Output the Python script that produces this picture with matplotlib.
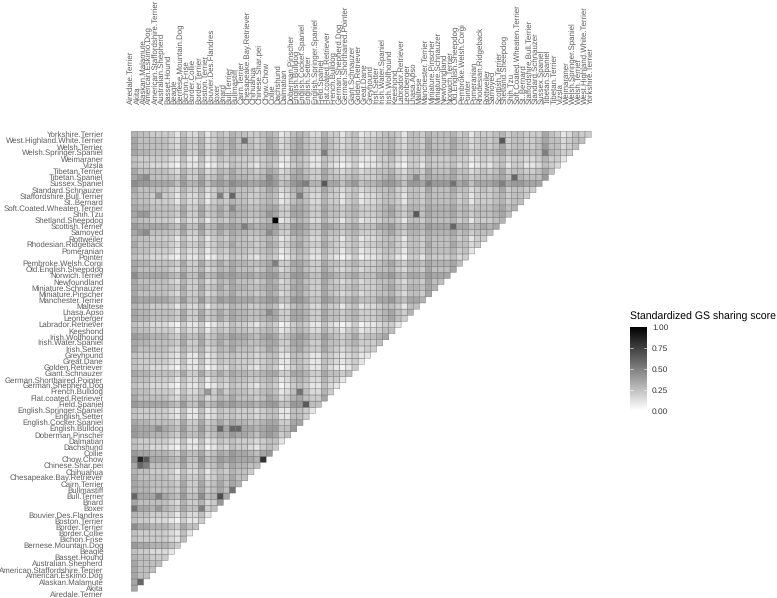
import numpy as np
import matplotlib
matplotlib.use('Agg')
import matplotlib.pyplot as plt
from matplotlib.colors import LinearSegmentedColormap

plt.rcParams['font.family'] = ['Liberation Sans', 'DejaVu Sans']
plt.rcParams['text.hinting'] = 'none'

breeds = ['Airedale.Terrier', 'Akita', 'Alaskan.Malamute', 'American.Eskimo.Dog',
          'American.Staffordshire.Terrier', 'Australian.Shepherd', 'Basset.Hound', 'Beagle',
          'Bernese.Mountain.Dog', 'Bichon.Frise', 'Border.Collie', 'Border.Terrier',
          'Boston.Terrier', 'Bouvier.Des.Flandres', 'Boxer', 'Briard', 'Bull.Terrier',
          'Bullmastiff', 'Cairn.Terrier', 'Chesapeake.Bay.Retriever', 'Chihuahua',
          'Chinese.Shar.pei', 'Chow.Chow', 'Collie', 'Dachshund', 'Dalmatian',
          'Doberman.Pinscher', 'English.Bulldog', 'English.Cocker.Spaniel', 'English.Setter',
          'English.Springer.Spaniel', 'Field.Spaniel', 'Flat.coated.Retriever', 'French.Bulldog',
          'German.Shepherd.Dog', 'German.Shorthaired.Pointer', 'Giant.Schnauzer',
          'Golden.Retriever', 'Great.Dane', 'Greyhound', 'Irish.Setter', 'Irish.Water.Spaniel',
          'Irish.Wolfhound', 'Keeshond', 'Labrador.Retriever', 'Leonberger', 'Lhasa.Apso',
          'Maltese', 'Manchester.Terrier', 'Miniature.Pinscher', 'Miniature.Schnauzer',
          'Newfoundland', 'Norwich.Terrier', 'Old.English.Sheepdog', 'Pembroke.Welsh.Corgi',
          'Pointer', 'Pomeranian', 'Rhodesian.Ridgeback', 'Rottweiler', 'Samoyed',
          'Scottish.Terrier', 'Shetland.Sheepdog', 'Shih.Tzu', 'Soft.Coated.Wheaten.Terrier',
          'St..Bernard', 'Staffordshire.Bull.Terrier', 'Standard.Schnauzer', 'Sussex.Spaniel',
          'Tibetan.Spaniel', 'Tibetan.Terrier', 'Vizsla', 'Weimaraner', 'Welsh.Springer.Spaniel',
          'Welsh.Terrier', 'West.Highland.White.Terrier', 'Yorkshire.Terrier']

# scores, one character per cell, steps of 0.05 (base 36)
# rows go top to bottom, spaces every ten columns only to keep them readable
score_rows = [
    '6554444253 3524546554 4565235653 3644245233 4554255465 5564524445 6455444754 23544',
    '7555554364 46346575b5 4576346754 4754345344 5564355475 5575534545 d455445755 3455',
    '7555554364 4634657555 4576346754 4754345344 5564355475 5575534545 7455445855 345',
    '7665555474 4745757665 5677447764 4a55456444 5675466576 6675645556 7566555a65 44',
    '5444443252 2523545444 3455225542 2543234222 4453244354 4454423434 5344334644 2',
    '5443332142 2412435443 2454124542 2532124122 3442144254 4453412324 5244223543',
    '7555554364 4634657555 4576346754 4754345344 5564355475 5575534545 745544575',
    '7895555474 4745757665 5697447764 4755456444 5675469576 6675645556 75c65558',
    '9887777586 6857879887 78985689a6 6d77578566 78875887a8 88b7857778 a788777',
    '7555554364 4634657555 4576346754 4754345344 5564355475 5575534545 745544',
    '6554844253 3524a4c554 4565235a53 3644245233 4554255465 5564524445 64554',
    '6554444253 3524546554 4565235653 3644245233 4554255465 5564524445 6455',
    '7665555474 4745759665 5677447764 4755456444 5675466576 6675645556 756',
    '7885555474 4745757665 5687447764 4755456444 567546d576 6675645556 75',
    '6554444253 3524546554 456k235653 3644245233 4554255465 5564524445 6',
    '8777776585 58568787a7 6788558875 5876567555 7786577687 77c7756767',
    '7895555474 4745757665 5697447764 4755456444 5675466576 667564555',
    '6554444253 3524546554 4565235653 3644245233 4554255465 55645244',
    '7555554364 4634657555 4576346754 4754345344 5564355475 5575534',
    '6554444253 3524546554 4565235653 3644245233 4554255465 556452',
    '5443332142 2412435443 2454124542 2532124122 3442144254 44534',
    '7665555474 4745757665 567a447764 4755456444 5675466576 6675',
    '7555554364 4634657555 4576346754 4754345344 5564355475 557',
    '9777776585 5856878777 6788558875 5876567555 7786577687 77',
    '7555554364 4634657555 4576346754 4754345344 5564355475 5',
    '7665555474 4745757665 5677447764 4755456444 5675466576',
    '7555554364 4634657555 4576346754 4754345344 556435547',
    '8777776585 5856878777 6788558875 5876567555 77865776',
    '6554444253 3524546554 4565235653 3644245233 4554255',
    '7665555474 4745757665 5697447764 4755456444 567546',
    '7665555474 4745757665 5677447764 4755456444 56754',
    '5443332142 2412435443 2454124542 2532124122 3442',
    '6554444253 3524546554 4565235653 3644245233 455',
    '8776665475 5745768776 5787457875 5865457455 67',
    '7665555474 4745757665 5677447764 4755456444 5',
    '7555554364 4634657555 4576346754 4754345344',
    '5444443252 2523545444 3455225542 254323422',
    '5444443252 2523545444 3455225542 25432342',
    '5443332142 2412435443 2454124542 2532124',
    '7665555474 4745757665 5677447764 475545',
    '6554444253 3524546554 4565235653 36442',
    '5443332142 2412435443 2454124542 2532',
    '6554444253 3584746554 4565235b53 364',
    '7555554364 4634657555 4576346754 47',
    '8777776585 5856878777 67885588d5 5',
    '5444443252 2523545444 3455225542',
    '5444443252 2523545444 345522554',
    '7665555474 4745757665 56774477',
    '8777976585 5856c7cc77 6788558',
    '8776665475 5745768776 578745',
    '5444443252 2523545444 34552',
    '5443332142 2412435443 2454',
    '8776665475 5745768776 578',
    '9hd7776585 5856878777 6g',
    '7ca5555474 4745757665 5',
    '6554444253 3524546554',
    '7555554364 463465755',
    '7665555474 47457576',
    '7665555474 474575b',
    'c777a76585 5956e7',
    '7555554364 46348',
    'b776865475 5a45',
    '6554444253 352',
    '5443332142 24',
    '9776665475 5',
    '5444443252',
    '544444325',
    '87766654',
    '5443332',
    '655444',
    '75555',
    '7555',
    '755',
    '7c',
    '7',
]

cbar_ticks = [0, 0.25, 0.5, 0.75, 1]
cbar_labels = ['0.00', '0.25', '0.50', '0.75', '1.00']

n = len(breeds)
matrix = np.full((n, n), np.nan)
for r, row in enumerate(score_rows):
    cells = row.replace(' ', '')
    k = n - 1 - r
    assert len(cells) == k, (r, len(cells), k)
    for j, c in enumerate(cells):
        matrix[k, j] = int(c, 36) * 0.05

W, H = 777, 598
fig = plt.figure(figsize=(W / 100, H / 100), dpi=100)
ax = fig.add_axes([131.3 / W, 1 - 597.3 / H, 466 / W, 466 / H])

cmap = LinearSegmentedColormap.from_list('gs', ['#ffffff', '#000000'])
mesh = ax.pcolor(np.ma.masked_invalid(matrix), cmap=cmap, vmin=0, vmax=1,
                 edgecolors='#6e6e6e', linewidth=0.28)
ax.set_xlim(0, n)
ax.set_ylim(0, n)
for s in ax.spines.values():
    s.set_visible(False)

ax.xaxis.tick_top()
ax.set_xticks(np.arange(n))
ax.set_xticklabels(breeds, rotation=90, fontsize=5.7, color='#5c5c5c', va='bottom', ha='center')
ax.set_yticks(np.arange(n) + 0.5)
ax.set_yticklabels(breeds, fontsize=5.7, color='#5c5c5c')
ax.tick_params(axis='both', length=0, pad=20)

cax = fig.add_axes([630 / W, 1 - 410.6 / H, 17 / W, 83.6 / H])
cb = fig.colorbar(mesh, cax=cax)
cb.outline.set_visible(False)
cb.set_ticks(cbar_ticks)
cb.set_ticklabels(cbar_labels)
cax.tick_params(length=0, labelsize=6, pad=3.6, labelcolor='#333333')
for t in cbar_ticks[1:-1]:
    cax.plot([0, 0.2], [t, t], color='white', lw=0.4, transform=cax.get_yaxis_transform())
    cax.plot([0.8, 1], [t, t], color='white', lw=0.4, transform=cax.get_yaxis_transform())
fig.text(630 / W, 1 - 317 / H, 'Standardized GS sharing score', fontsize=7.6, va='center', ha='left', color='black')

fig.savefig('out.png', dpi=100)
